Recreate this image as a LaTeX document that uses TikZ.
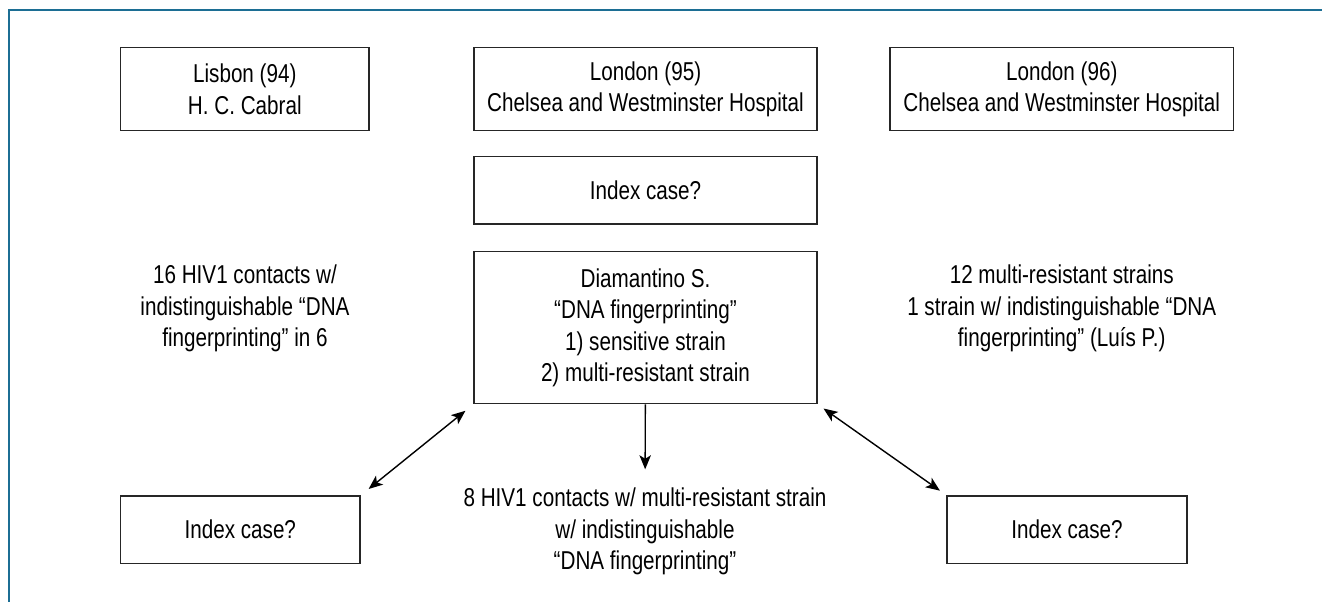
\documentclass[tikz,border=0pt]{standalone}
\usepackage{fontspec}
\setmainfont{Liberation Sans}[FakeStretch=0.8]
\usepackage{tikz}
\usetikzlibrary{arrows.meta,positioning,calc}
\usepackage{xcolor}
\definecolor{framec}{RGB}{28,110,148}

\begin{document}
\begin{tikzpicture}[
    box/.style={draw=black!85, line width=0.9pt, fill=white,
                align=center, inner sep=2pt,
                font=\fontsize{14.7}{17.9}\selectfont},
    txt/.style={align=center, inner sep=2pt,
                font=\fontsize{14.7}{17.9}\selectfont},
    arr/.style={-{Stealth[length=8pt,width=6.5pt,inset=2pt]}, line width=0.8pt},
    dblarr/.style={{Stealth[length=8pt,width=6.5pt,inset=2pt]}-{Stealth[length=8pt,width=6.5pt,inset=2pt]},
                   line width=0.8pt}
  ]
  \useasboundingbox (0,0) rectangle (26.44,12.04);
  % outer frame (top and left only)
  \draw[framec, line width=1pt] (0.186,0) -- (0.186,11.84) -- (26.44,11.84);

  %% --- top row: places ---
  \node[box, minimum width=4.97cm, minimum height=1.66cm] (lisb) at (4.896,10.256)
        {Lisbon (94)\\H. C. Cabral};
  \node[box, minimum width=6.86cm, minimum height=1.66cm] (lon95) at (12.91,10.256)
        {London (95)\\Chelsea and Westminster Hospital};
  \node[box, minimum width=6.87cm, minimum height=1.66cm] (lon96) at (21.235,10.256)
        {London (96)\\Chelsea and Westminster Hospital};

  %% --- middle column ---
  \node[box, minimum width=6.86cm, minimum height=1.346cm] (idxtop) at (12.91,8.233)
        {Index case?};
  \node[box, minimum width=6.86cm, minimum height=3.04cm] (diam) at (12.91,5.486)
        {Diamantino S.\\“DNA fingerprinting”\\1) sensitive strain\\2) multi-resistant strain};

  % side texts
  \node[txt] (lisbtxt) at (4.9,5.87)
        {16 HIV1 contacts w/\\indistinguishable “DNA\\fingerprinting” in 6};
  \node[txt] (lon96txt) at (21.235,5.87)
        {12 multi-resistant strains\\1 strain w/ indistinguishable “DNA\\fingerprinting” (Luís P.)};

  %% --- bottom row ---
  \node[box, minimum width=4.79cm, minimum height=1.346cm] (idxl) at (4.806,1.446)
        {Index case?};
  \node[box, minimum width=4.79cm, minimum height=1.346cm] (idxr) at (21.34,1.446)
        {Index case?};
  \node[txt] (contacts) at (12.9,1.406)
        {8 HIV1 contacts w/ multi-resistant strain\\w/ indistinguishable\\“DNA fingerprinting”};

  % connections
  \draw[arr] (diam) -- (contacts) [shorten >=0.3cm];
  \draw[dblarr, shorten <=0.2cm, shorten >=0.2cm] (diam.south west) -- (idxl.north east);
  \draw[dblarr, shorten <=0.14cm, shorten >=0.16cm] (diam.south east) -- (idxr.north west);
\end{tikzpicture}
\end{document}
